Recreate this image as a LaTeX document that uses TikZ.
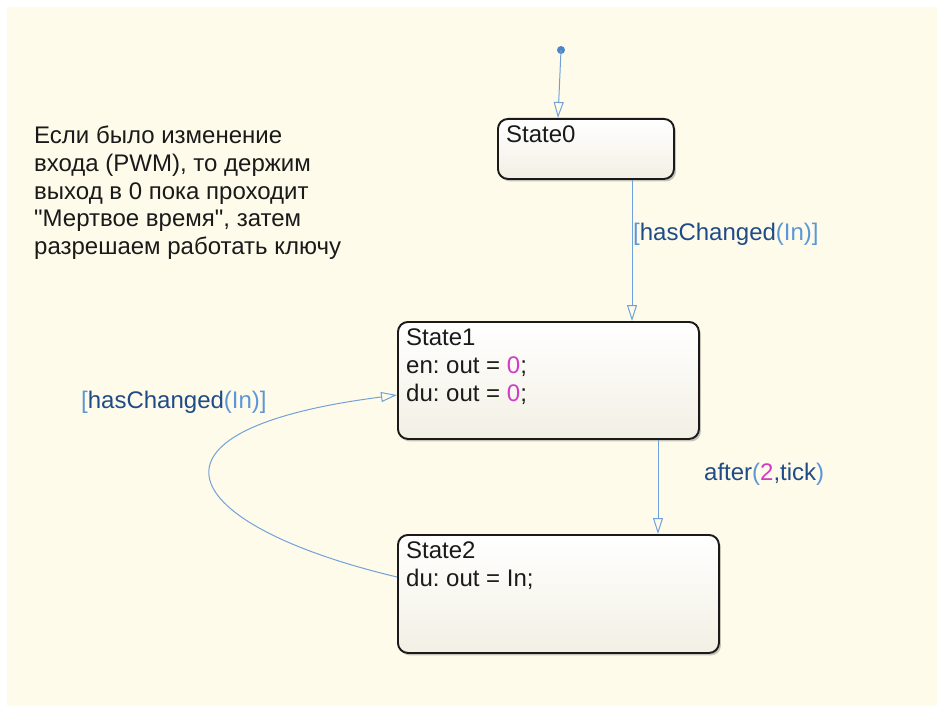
\documentclass[tikz,border=0pt]{standalone}
\usepackage{fontspec}
\newfontfamily\arialish{Liberation Sans}
\usetikzlibrary{arrows.meta,shadows,calc}
\definecolor{bgc}{HTML}{FFFBEB}
\definecolor{ln}{HTML}{6FA2DA}
\definecolor{lb}{HTML}{5B97D6}
\definecolor{db}{HTML}{1F4B86}
\definecolor{mg}{HTML}{D23BC8}
\definecolor{tx}{HTML}{1A1A1A}
\definecolor{dotc}{HTML}{4A86C8}
\definecolor{boxbot}{HTML}{F2F0E4}
\frenchspacing
\begin{document}
\begin{tikzpicture}[x=1pt,y=-1pt,
  statebox/.style={draw=tx, line width=1.9pt, rounded corners=10pt,
    top color=white, bottom color=boxbot, anchor=north west, inner sep=0pt,
    drop shadow={shadow xshift=2pt, shadow yshift=-2.5pt, opacity=0.22, fill=black}},
  txt/.style={anchor=north west, inner sep=0pt, align=left, text=tx,
    font=\arialish\fontsize{24}{27.7}\selectfont},
  lbl/.style={anchor=base west, inner sep=0pt, font=\arialish\fontsize{24}{27.7}\selectfont},
  trans/.style={draw=ln, line width=1pt, -{Triangle[open, length=16pt, width=10pt]}}]
\useasboundingbox (0,0) rectangle (937,706);
\fill[white] (0,0) rectangle (937,706);
\fill[bgc] (7,7) rectangle (937,706);

\node[statebox, minimum width=176pt, minimum height=60pt] (s0) at (497,118) {};
\node[statebox, minimum width=301pt, minimum height=117pt] (s1) at (397,321) {};
\node[statebox, minimum width=321pt, minimum height=118pt] (s2) at (397,534) {};

\node[txt] (s0t) at (506,126) {State0};
\node[txt] (s1t) at (406,329) {State1\\en: out = {\color{mg}0};\\du: out = {\color{mg}0};};
\node[txt] (s2t) at (406,542) {State2\\du: out = In;};

\node[txt] (cmt) at (34,126) {Если было изменение\\входа (PWM), то держим\\выход в 0 пока проходит\\"Мертвое время", затем\\разрешаем работать ключу};

\coordinate (init) at (561,50);
\fill[dotc] (init) circle (4pt);
\draw[trans] (init) -- ($(s0.north west)+(61,0)$);
\draw[trans] ($(s0.south west)+(135,0)$) -- ($(s1.north west)+(235,0)$);
\draw[trans] ($(s1.south west)+(261,0)$) -- ($(s2.north west)+(261,0)$);
\draw[trans] ($(s2.north west)+(0,43)$) .. controls (178,525) and (122,430) .. ($(s1.north west)+(0,74)$);

\node[lbl] (l1) at (633,240) {{\color{lb}[}{\color{db}hasChanged}{\color{lb}(In)]}};
\node[lbl] (l2) at (81,408) {{\color{lb}[}{\color{db}hasChanged}{\color{lb}(In)]}};
\node[lbl] (l3) at (704,480) {{\color{db}after}{\color{lb}(}{\color{mg}2}{\color{db},tick}{\color{lb})}};
\end{tikzpicture}
\end{document}
